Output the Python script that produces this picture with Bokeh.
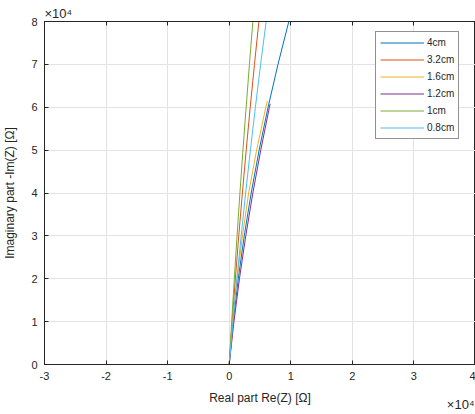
from bokeh.plotting import figure
from bokeh.models import (ColumnDataSource, Legend, LegendItem, FixedTicker,
                          Range1d, Title, LinearAxis)
from bokeh.embed import file_html
from bokeh.resources import INLINE

SCALE = 1e4  # axes are shown in units of 10^4 ohm

# Nyquist curves: real part Re(Z) [ohm] vs imaginary part -Im(Z) [ohm]
re_4cm   = [0, 650, 1470, 2440, 3570, 4860, 6310, 7920, 9680]
im_4cm   = [0, 10000, 20000, 30000, 40000, 50000, 60000, 70000, 80000]
re_3_2cm = [0, 480, 1000, 1550, 2140, 2760, 3410, 4100, 4820]
im_3_2cm = [0, 10000, 20000, 30000, 40000, 50000, 60000, 70000, 80000]
re_1_6cm = [0, 500, 1280, 2150, 3160, 4450, 5950, 6200]
im_1_6cm = [0, 10000, 20000, 30000, 40000, 50000, 60000, 61500]
re_1_2cm = [0, 770, 1660, 2690, 3840, 5120, 6530, 6650]
im_1_2cm = [0, 10000, 20000, 30000, 40000, 50000, 60000, 60800]
re_1cm   = [0, 400, 830, 1270, 1740, 2230, 2750, 3280, 3840]
im_1cm   = [0, 10000, 20000, 30000, 40000, 50000, 60000, 70000, 80000]
re_0_8cm = [0, 610, 1250, 1940, 2670, 3440, 4250, 5100, 6000]
im_0_8cm = [0, 10000, 20000, 30000, 40000, 50000, 60000, 70000, 80000]

labels = ["4cm", "3.2cm", "1.6cm", "1.2cm", "1cm", "0.8cm"]
colors = ["#0072BD", "#D95319", "#EDB120", "#7E2F8E", "#77AC30", "#4DBEEE"]
series = [(re_4cm, im_4cm), (re_3_2cm, im_3_2cm), (re_1_6cm, im_1_6cm),
          (re_1_2cm, im_1_2cm), (re_1cm, im_1cm), (re_0_8cm, im_0_8cm)]

x_ticks = [-3, -2, -1, 0, 1, 2, 3, 4]
x_tick_labels = ["-3", "-2", "-1", "0", "1", "2", "3", "4"]
y_ticks = [0, 1, 2, 3, 4, 5, 6, 7, 8]
exponent_text = "×10⁴"

FONT = "Liberation Sans"
AX = "#262626"
GRID = "#e3e3e3"

p = figure(width=475, height=414, output_backend="svg", toolbar_location=None,
           x_range=Range1d(-3, 4), y_range=Range1d(0, 8),
           min_border_left=43, min_border_right=0, min_border_top=21,
           min_border_bottom=50, title=None)
p.background_fill_color = "white"
p.border_fill_color = "white"
p.outline_line_color = AX
p.outline_line_width = 1

items = []
for (xs, ys), lab, col in zip(series, labels, colors):
    src = ColumnDataSource(dict(x=[v / SCALE for v in xs], y=[v / SCALE for v in ys]))
    r = p.line("x", "y", source=src, line_color=col, line_width=1)
    items.append(LegendItem(label=lab, renderers=[r]))

for ax in (p.xaxis[0], p.yaxis[0]):
    ax.major_tick_in = 4
    ax.major_tick_out = 0
    ax.minor_tick_line_color = None
    ax.axis_line_color = AX
    ax.major_tick_line_color = AX
    ax.major_label_text_font = FONT
    ax.major_label_text_font_size = "11px"
    ax.major_label_text_color = AX
    ax.axis_label_text_font = FONT
    ax.axis_label_text_font_size = "12px"
    ax.axis_label_text_font_style = "normal"
    ax.axis_label_text_color = AX

p.xaxis.ticker = FixedTicker(ticks=x_ticks)
p.xaxis.major_label_overrides = dict(zip(x_ticks, x_tick_labels))
p.yaxis.ticker = FixedTicker(ticks=y_ticks)
p.xaxis.axis_label = "Real part Re(Z) [Ω]"
p.yaxis.axis_label = "Imaginary part -Im(Z) [Ω]"
p.xaxis.major_label_standoff = 7
p.yaxis.major_label_standoff = 7
p.xaxis.axis_label_standoff = 8
p.yaxis.axis_label_standoff = 11

p.xgrid.grid_line_color = GRID
p.ygrid.grid_line_color = GRID

# box-style top axis: inward ticks only, no labels
top_axis = LinearAxis(ticker=FixedTicker(ticks=x_ticks), major_tick_in=4,
                      major_tick_out=0, minor_tick_line_color=None,
                      axis_line_color=AX, major_tick_line_color=AX,
                      major_label_text_color=None,
                      major_label_text_font_size="1px", major_label_standoff=0)
p.add_layout(top_axis, "above")

legend = Legend(items=items, location=(331, 225))
legend.border_line_color = AX
legend.border_line_width = 1
legend.background_fill_color = "white"
legend.background_fill_alpha = 1
legend.label_text_font = FONT
legend.label_text_font_size = "10px"
legend.label_text_color = AX
legend.glyph_width = 44
legend.glyph_height = 13
legend.label_height = 13
legend.spacing = 4
legend.padding = 4
legend.label_standoff = 3
legend.margin = 0
p.add_layout(legend)

# exponent markers (x10^4) as titles above and below the frame
p.add_layout(Title(text=exponent_text, align="left", text_font=FONT,
                   text_font_size="13px", text_font_style="normal",
                   text_color=AX, standoff=1, offset=0), "above")
p.add_layout(Title(text=exponent_text, align="right", vertical_align="top",
                   text_font=FONT, text_font_size="13px",
                   text_font_style="normal", text_color=AX,
                   standoff=-22, offset=1), "below")

open("out.html", "w").write(file_html(p, INLINE))
